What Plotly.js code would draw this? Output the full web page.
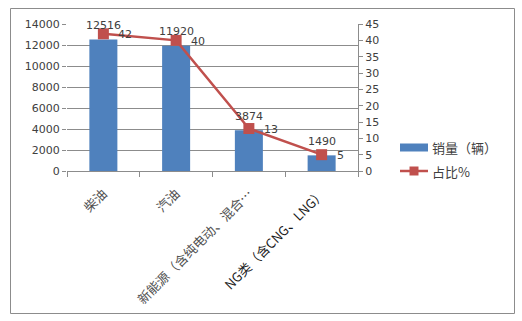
<!DOCTYPE html>
<html>
<head>
<meta charset="utf-8">
<script src="https://cdn.plot.ly/plotly-3.0.1.min.js"></script>
<style>html,body{margin:0;padding:0;background:#fff;}#chart{width:522px;height:321px;}</style>
</head>
<body>
<div id="chart"></div>
<script>
var categories = ["柴油", "汽油", "新能源（含纯电动、混合…", "NG类（含CNG、LNG）"];
var sales = [12516, 11920, 3874, 1490];
var share = [42, 40, 13, 5];
var seriesNames = ["销量（辆）", "占比%"];
var leftTicks = [0, 2000, 4000, 6000, 8000, 10000, 12000, 14000];
var rightTicks = [0, 5, 10, 15, 20, 25, 30, 35, 40, 45];

var BLUE = "#4F81BD", RED = "#C0504D", GRID = "#8c8c8c", TXT = "#404040";
var FONT = "DejaVu Sans, Noto Sans CJK SC, sans-serif";
var CJK = "Noto Sans CJK SC, sans-serif";

// plot area pixels: left 67, right 358, top 24, bottom 171
var L = 67, R = 358, T = 24, B = 171, W = R - L, H = B - T;
function px(x) { return (x - L) / W; }
function py(y) { return (B - y) / H; }

var traces = [
  {
    type: "bar", x: categories, y: sales, name: seriesNames[0],
    marker: {color: BLUE}, showlegend: false, hoverinfo: "skip"
  },
  {
    type: "scatter", mode: "lines+markers", x: categories, y: share, yaxis: "y2",
    name: seriesNames[1], line: {color: RED, width: 2.5},
    marker: {symbol: "square", size: 11, color: RED},
    cliponaxis: false, showlegend: false, hoverinfo: "skip"
  }
];

var annotations = [];
sales.forEach(function (v, i) {
  annotations.push({x: categories[i], y: v, xref: "x", yref: "y", text: String(v),
    showarrow: false, xanchor: "center", yanchor: "middle", yshift: 14,
    font: {family: FONT, size: 11, color: TXT}});
});
share.forEach(function (v, i) {
  annotations.push({x: categories[i], y: v, xref: "x", yref: "y2", text: String(v),
    showarrow: false, xanchor: "left", yanchor: "middle", xshift: 13, yshift: -1,
    font: {family: FONT, size: 11, color: TXT}});
});
annotations.push(
  {xref: "paper", yref: "paper", x: px(430), y: py(147), xanchor: "left", yanchor: "middle",
   text: seriesNames[0], showarrow: false, font: {family: CJK, size: 13, color: TXT}},
  {xref: "paper", yref: "paper", x: px(430), y: py(171), xanchor: "left", yanchor: "middle",
   text: seriesNames[1], showarrow: false, font: {family: CJK, size: 13, color: TXT}}
);

var tickText = categories.map(function (c, i) {
  return i === categories.length - 1 ? '<span style="color:#1a1a1a">' + c + '</span>' : c;
});

var layout = {
  width: 522, height: 321,
  margin: {l: L, r: 522 - R, t: T, b: 321 - B, pad: 0},
  paper_bgcolor: "#fff", plot_bgcolor: "#fff",
  bargap: 0.615,
  showlegend: false,
  font: {family: FONT, size: 11, color: TXT},
  xaxis: {
    type: "category", tickangle: -45, tickson: "boundaries",
    tickvals: categories, ticktext: tickText,
    ticks: "outside", ticklen: 5, tickcolor: GRID, showline: true, linecolor: GRID, linewidth: 1,
    showgrid: false, zeroline: false, ticklabelstandoff: 9,
    tickfont: {family: CJK, size: 13, color: "#505050"},
    automargin: false
  },
  yaxis: {
    range: [0, 14000], tickvals: leftTicks, ticktext: leftTicks.map(String),
    showgrid: true, gridcolor: GRID, gridwidth: 1, zeroline: false, showline: false,
    ticks: "outside", ticklen: 4, tickcolor: GRID,
    tickfont: {family: FONT, size: 11, color: TXT}, automargin: false
  },
  yaxis2: {
    range: [0, 45], tickvals: rightTicks, ticktext: rightTicks.map(String),
    overlaying: "y", side: "right", showgrid: false, zeroline: false,
    showline: true, linecolor: GRID, linewidth: 1,
    ticks: "outside", ticklen: 4, tickcolor: GRID,
    tickfont: {family: FONT, size: 11, color: TXT}, automargin: false
  },
  shapes: [
    {type: "rect", xref: "paper", yref: "paper", x0: px(10.5), x1: px(514.5), y0: py(313.5), y1: py(8.5),
     line: {color: "#8c8c8c", width: 1}, fillcolor: "rgba(0,0,0,0)", layer: "below"},
    {type: "rect", xref: "paper", yref: "paper", x0: px(400), x1: px(428), y0: py(151.5), y1: py(143.5),
     line: {width: 0}, fillcolor: BLUE},
    {type: "line", xref: "paper", yref: "paper", x0: px(400), x1: px(428), y0: py(171), y1: py(171),
     line: {color: RED, width: 2.5}},
    {type: "rect", xref: "paper", yref: "paper", x0: px(409.5), x1: px(418.5), y0: py(175.5), y1: py(166.5),
     line: {width: 0}, fillcolor: RED}
  ],
  annotations: annotations
};

Plotly.newPlot("chart", traces, layout, {staticPlot: true, displayModeBar: false});
</script>
</body>
</html>
